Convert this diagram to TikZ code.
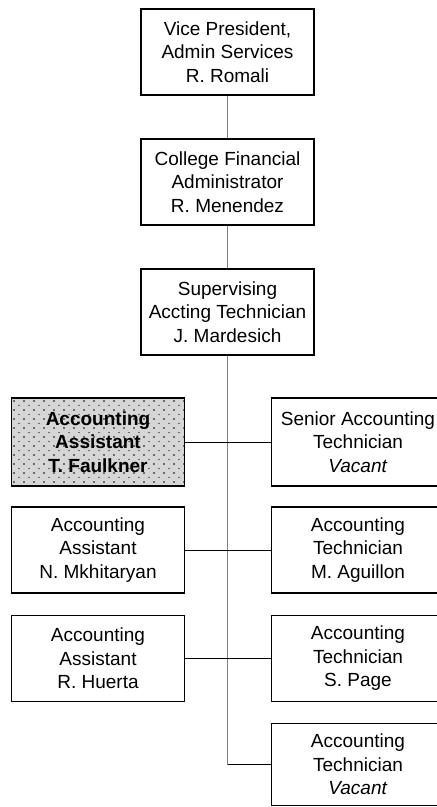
\documentclass[tikz,border=0pt]{standalone}
\usepackage{fontspec}
\setmainfont{Liberation Sans}
\definecolor{faulkfill}{RGB}{214,214,214}
\definecolor{trunkgray}{RGB}{128,128,128}
\begin{document}
\begin{tikzpicture}[x=1pt,y=-1pt,
  box/.style={draw=black, line width=1.4pt, minimum width=173pt, minimum height=86pt,
    inner sep=0pt, align=center, font=\fontsize{19}{23.5}\selectfont, fill=white},
  trunk/.style={draw=trunkgray, line width=1.3pt},
  hline/.style={draw=black, line width=0.9pt}]
\useasboundingbox (0,0) rectangle (437,807);
\clip (0,0) rectangle (437,807);

% centre column
\node[box] (vp)  at (227.5,52)  {Vice President,\\Admin Services\\R. Romali};
\node[box] (cfa) at (227.5,182) {College Financial\\Administrator\\R. Menendez};
\node[box] (sat) at (227.5,312) {Supervising\\Accting Technician\\J. Mardesich};

% left column
\node[box, fill=faulkfill, minimum height=88pt] (fa) at (98,442) {};
\begin{scope}
  \clip ([xshift=1pt,yshift=1pt]fa.south west) rectangle ([xshift=-1pt,yshift=-1pt]fa.north east);
  \foreach \i in {0,...,19}{
    \pgfmathsetmacro\yy{401+4.5*\i}
    \pgfmathsetmacro\xo{14+5*mod(\i,2)}
    \pgfmathsetmacro\rr{ifthenelse(mod(\i,2)==0,0.85,0.6)}
    \foreach \j in {0,...,17}{
      \fill[black] (\xo+10*\j,\yy) circle (\rr pt);
    }
  }
\end{scope}
\node[align=center, font=\fontsize{19}{23.5}\selectfont\bfseries] (fatext) at (fa) {Accounting\\Assistant\\T. Faulkner};

\node[box] (nm) at (98,550)   {Accounting\\Assistant\\N. Mkhitaryan};
\node[box] (rh) at (98,658.5) {Accounting\\Assistant\\R. Huerta};

% right column
\node[box, minimum height=88pt] (sr) at (358,442) {Senior Accounting\\Technician\\\textit{Vacant}};
\node[box] (ma) at (358,550)   {Accounting\\Technician\\M. Aguillon};
\node[box] (sp) at (358,658.5) {Accounting\\Technician\\S. Page};
\node[box, minimum height=82pt] (av) at (358,764.5) {Accounting\\Technician\\\textit{Vacant}};

\coordinate (tend) at (227.5,764.5);

% connectors
\draw[trunk] (vp.south) -- (cfa.north);
\draw[trunk] (cfa.south) -- (sat.north);
\draw[trunk] (sat.south) -- (tend);
\draw[hline] (fa.east) -- (sr.west);
\draw[hline] (nm.east) -- (ma.west);
\draw[hline] (rh.east) -- (sp.west);
\draw[hline] (tend) -- (av.west);
\end{tikzpicture}
\end{document}
